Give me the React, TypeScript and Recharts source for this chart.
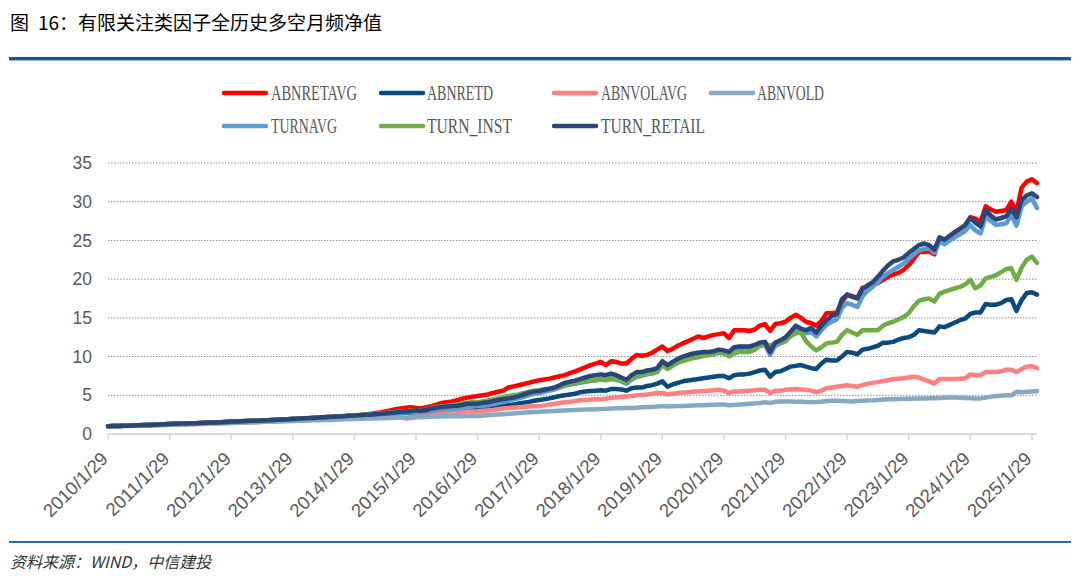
import React from 'react';
import { LineChart, Line, XAxis, YAxis, CartesianGrid } from 'recharts';

const years = [2010, 2011, 2012, 2013, 2014, 2015, 2016, 2017, 2018, 2019, 2020, 2021, 2022, 2023, 2024, 2025];
const xTickLabels = years.map((y) => `${y}/1/29`);
const yTicks = [0, 5, 10, 15, 20, 25, 30, 35];

const seriesNames = ['ABNRETAVG', 'ABNRETD', 'ABNVOLAVG', 'ABNVOLD', 'TURNAVG', 'TURN_INST', 'TURN_RETAIL'];
const seriesColors = ['#ff0000', '#0b4a7d', '#ff8080', '#86a9c3', '#5b9bd5', '#70ad47', '#2a4679'];

const ABNRETAVG = [
  1.00,1.02,1.04,1.06,1.08,1.10,1.12,1.15,1.17,1.20,1.23,1.26,
  1.30,1.32,1.34,1.36,1.38,1.40,1.42,1.45,1.47,1.50,1.53,1.56,
  1.60,1.62,1.64,1.67,1.70,1.72,1.75,1.78,1.81,1.85,1.88,1.92,
  1.95,1.98,2.02,2.05,2.08,2.12,2.15,2.18,2.22,2.26,2.30,2.35,
  2.40,2.45,2.52,2.60,2.68,2.78,2.90,3.05,3.20,3.30,3.40,3.45,
  3.35,3.30,3.45,3.60,3.80,4.00,4.10,4.20,4.35,4.55,4.70,4.80,
  4.90,5.00,5.10,5.30,5.45,5.60,6.00,6.15,6.30,6.45,6.60,6.80,
  6.95,7.05,7.15,7.30,7.45,7.60,7.85,8.10,8.35,8.60,8.90,9.10,
  9.30,8.90,9.40,9.30,9.10,9.10,9.70,10.20,10.10,10.20,10.50,10.90,
  11.30,10.70,11.00,11.40,11.70,12.00,12.30,12.60,12.40,12.60,12.80,12.90,
  13.00,12.40,13.40,13.40,13.40,13.30,13.50,14.00,14.20,13.30,14.20,14.30,
  14.50,15.00,15.40,15.00,14.50,14.30,14.00,14.60,15.60,15.60,15.70,17.00,
  18.00,17.80,17.60,18.90,19.00,19.30,19.50,19.90,20.30,20.60,20.80,21.20,
  21.80,22.60,23.50,23.50,23.60,23.20,25.30,24.70,25.50,26.00,26.50,26.90,
  28.00,27.80,27.40,29.40,29.00,28.70,28.80,28.90,30.00,28.70,31.80,32.60,
  32.90,32.40,
];

const ABNRETD = [
  1.00,1.02,1.04,1.06,1.08,1.10,1.12,1.14,1.16,1.19,1.22,1.25,
  1.28,1.30,1.32,1.34,1.36,1.38,1.40,1.43,1.45,1.48,1.51,1.54,
  1.57,1.59,1.61,1.64,1.67,1.69,1.72,1.75,1.78,1.82,1.85,1.89,
  1.93,1.96,2.00,2.03,2.06,2.10,2.13,2.16,2.20,2.24,2.28,2.32,
  2.36,2.39,2.42,2.45,2.48,2.52,2.56,2.60,2.65,2.70,2.74,2.78,
  2.82,2.80,2.90,2.98,3.05,3.10,3.15,3.20,3.22,3.25,3.28,3.30,
  3.30,3.35,3.40,3.50,3.60,3.65,3.70,3.80,3.95,4.05,4.15,4.30,
  4.40,4.50,4.60,4.75,4.90,5.00,5.10,5.20,5.40,5.50,5.55,5.60,
  5.65,5.60,5.80,5.80,5.75,5.60,5.90,6.00,6.00,6.20,6.30,6.50,
  6.80,6.10,6.40,6.60,6.80,6.90,7.00,7.10,7.20,7.30,7.40,7.50,
  7.50,7.20,7.60,7.70,7.70,7.80,8.00,8.20,8.30,7.40,8.00,8.10,
  8.40,8.70,8.80,8.90,8.70,8.50,8.40,9.10,9.60,9.50,9.50,10.00,
  10.60,10.50,10.30,10.90,11.00,11.20,11.40,11.80,11.80,11.90,12.20,12.40,
  12.50,12.80,13.40,13.30,13.20,13.10,13.90,13.80,14.10,14.40,14.70,14.90,
  15.50,15.70,15.70,16.80,16.70,16.70,16.90,17.30,17.40,15.90,17.30,18.20,
  18.30,18.00,
];

const ABNVOLAVG = [
  1.00,1.01,1.02,1.03,1.04,1.05,1.06,1.08,1.10,1.12,1.14,1.16,
  1.18,1.20,1.22,1.24,1.26,1.28,1.30,1.32,1.34,1.36,1.38,1.40,
  1.43,1.45,1.48,1.50,1.52,1.55,1.58,1.60,1.63,1.66,1.69,1.72,
  1.75,1.78,1.81,1.84,1.87,1.90,1.93,1.96,2.00,2.03,2.06,2.10,
  2.14,2.18,2.22,2.26,2.30,2.35,2.40,2.45,2.40,2.20,2.00,2.05,
  2.20,2.35,2.50,2.55,2.60,2.65,2.70,2.75,2.80,2.85,2.90,2.90,
  2.90,3.00,3.05,3.10,3.20,3.30,3.35,3.40,3.45,3.50,3.55,3.60,
  3.60,3.70,3.80,3.90,4.00,4.10,4.15,4.25,4.35,4.40,4.45,4.50,
  4.50,4.55,4.65,4.75,4.80,4.85,4.90,5.00,5.05,5.10,5.20,5.30,
  5.30,5.10,5.20,5.30,5.35,5.40,5.50,5.50,5.55,5.60,5.65,5.70,
  5.60,5.30,5.50,5.50,5.55,5.60,5.65,5.70,5.70,5.30,5.60,5.60,
  5.70,5.75,5.80,5.75,5.70,5.60,5.40,5.60,5.90,6.00,6.10,6.20,
  6.30,6.20,6.10,6.30,6.50,6.60,6.70,6.85,6.95,7.10,7.15,7.20,
  7.30,7.40,7.30,7.00,6.80,6.50,7.10,7.10,7.10,7.10,7.15,7.20,
  7.70,7.60,7.60,8.00,8.00,8.00,8.10,8.30,8.30,8.00,8.40,8.70,
  8.75,8.50,
];

const ABNVOLD = [
  1.00,1.01,1.02,1.03,1.05,1.06,1.07,1.09,1.11,1.13,1.15,1.17,
  1.19,1.21,1.23,1.25,1.27,1.29,1.31,1.33,1.35,1.37,1.39,1.41,
  1.43,1.45,1.47,1.49,1.51,1.53,1.55,1.57,1.59,1.62,1.64,1.66,
  1.68,1.70,1.72,1.74,1.76,1.78,1.80,1.82,1.85,1.87,1.89,1.91,
  1.93,1.95,1.97,1.99,2.01,2.03,2.05,2.08,2.10,2.12,2.14,2.16,
  2.18,2.17,2.20,2.22,2.25,2.27,2.28,2.30,2.30,2.30,2.32,2.33,
  2.33,2.38,2.42,2.47,2.52,2.56,2.60,2.65,2.70,2.75,2.80,2.85,
  2.88,2.90,2.93,2.96,3.00,3.03,3.06,3.10,3.12,3.15,3.18,3.20,
  3.22,3.25,3.30,3.32,3.33,3.35,3.37,3.40,3.45,3.48,3.50,3.55,
  3.60,3.55,3.58,3.60,3.62,3.65,3.68,3.70,3.72,3.75,3.78,3.80,
  3.80,3.70,3.75,3.80,3.85,3.90,3.95,4.00,4.10,4.00,4.15,4.20,
  4.20,4.20,4.18,4.15,4.12,4.10,4.12,4.18,4.25,4.30,4.28,4.25,
  4.22,4.20,4.25,4.30,4.32,4.35,4.40,4.45,4.48,4.50,4.52,4.55,
  4.56,4.58,4.60,4.60,4.62,4.62,4.65,4.68,4.70,4.70,4.68,4.65,
  4.62,4.60,4.60,4.70,4.80,4.90,4.95,5.00,5.00,5.45,5.40,5.45,
  5.50,5.55,
];

const TURNAVG = [
  1.00,1.02,1.04,1.06,1.08,1.10,1.12,1.15,1.17,1.20,1.23,1.26,
  1.30,1.32,1.34,1.36,1.38,1.40,1.42,1.45,1.47,1.50,1.53,1.56,
  1.59,1.61,1.63,1.66,1.69,1.71,1.74,1.77,1.80,1.83,1.86,1.90,
  1.93,1.96,2.00,2.03,2.06,2.10,2.13,2.16,2.20,2.24,2.28,2.33,
  2.38,2.42,2.45,2.48,2.52,2.56,2.60,2.64,2.70,2.75,2.80,2.82,
  2.80,2.78,2.85,2.95,3.05,3.15,3.20,3.25,3.30,3.40,3.50,3.55,
  3.60,3.65,3.70,3.85,4.00,4.15,4.30,4.45,4.60,4.80,5.00,5.20,
  5.30,5.45,5.60,5.75,6.00,6.25,6.40,6.50,6.60,6.75,6.85,6.95,
  7.05,6.95,7.10,7.00,6.80,6.50,7.00,7.40,7.50,7.70,7.80,8.00,
  8.90,8.50,8.90,9.30,9.60,9.80,10.00,10.10,10.20,10.20,10.30,10.50,
  10.40,10.20,10.80,10.90,10.90,10.90,11.10,11.40,11.50,10.20,11.40,11.70,
  12.00,12.70,13.50,13.30,13.00,13.20,12.60,13.40,14.10,14.50,14.80,16.30,
  16.90,16.70,16.40,17.80,18.50,19.00,19.60,20.30,20.80,21.20,21.60,22.00,
  22.60,23.20,23.70,23.90,24.00,23.40,24.80,24.50,25.00,25.40,25.80,26.20,
  27.00,26.30,25.90,28.10,27.50,27.00,27.10,27.20,28.30,26.90,29.40,30.00,
  30.40,29.20,
];

const TURN_INST = [
  1.00,1.02,1.04,1.06,1.08,1.10,1.12,1.15,1.17,1.20,1.23,1.26,
  1.30,1.32,1.34,1.36,1.38,1.40,1.42,1.45,1.47,1.50,1.53,1.56,
  1.60,1.62,1.64,1.67,1.70,1.72,1.75,1.78,1.81,1.85,1.88,1.92,
  1.96,1.99,2.03,2.07,2.10,2.14,2.18,2.22,2.26,2.30,2.34,2.38,
  2.42,2.46,2.50,2.55,2.60,2.66,2.72,2.78,2.84,2.90,2.95,3.00,
  3.05,3.00,3.15,3.35,3.50,3.60,3.65,3.75,3.80,3.90,4.05,4.10,
  4.10,4.20,4.30,4.45,4.60,4.75,4.90,5.00,5.10,5.30,5.45,5.60,
  5.65,5.80,5.85,5.95,6.10,6.30,6.45,6.60,6.70,6.80,6.90,6.95,
  7.10,7.00,7.20,7.10,6.90,6.70,7.20,7.50,7.60,7.80,7.90,8.10,
  9.00,8.40,8.80,9.20,9.40,9.60,9.80,9.90,10.10,10.20,10.40,10.60,
  10.50,10.00,10.40,10.60,10.60,10.60,10.90,11.40,11.70,11.40,11.70,11.80,
  12.10,12.60,13.00,13.10,12.00,11.30,10.80,11.20,11.70,11.80,11.90,12.80,
  13.40,13.10,12.80,13.40,13.40,13.40,13.40,14.00,14.30,14.50,14.80,15.10,
  15.60,16.50,17.20,17.40,17.50,17.10,18.10,18.40,18.60,18.80,19.00,19.30,
  19.90,18.80,19.20,20.10,20.30,20.50,20.90,21.30,21.40,19.90,21.50,22.50,
  22.90,22.10,
];

const TURN_RETAIL = [
  1.00,1.02,1.04,1.06,1.08,1.10,1.12,1.15,1.17,1.20,1.23,1.26,
  1.30,1.32,1.34,1.36,1.38,1.40,1.42,1.45,1.47,1.50,1.53,1.56,
  1.60,1.62,1.64,1.67,1.70,1.72,1.75,1.78,1.81,1.85,1.88,1.92,
  1.95,1.98,2.02,2.05,2.08,2.12,2.15,2.18,2.22,2.26,2.30,2.35,
  2.40,2.43,2.47,2.50,2.55,2.60,2.65,2.70,2.78,2.85,2.90,2.95,
  3.05,3.00,3.10,3.30,3.40,3.50,3.55,3.60,3.65,3.75,3.90,3.90,
  3.90,4.00,4.10,4.25,4.40,4.50,4.60,4.70,4.90,5.10,5.30,5.50,
  5.55,5.70,5.85,6.00,6.30,6.60,6.75,6.90,7.10,7.30,7.50,7.60,
  7.70,7.60,7.80,7.60,7.30,7.00,7.60,8.00,8.00,8.20,8.30,8.50,
  9.40,8.90,9.30,9.70,10.00,10.20,10.40,10.50,10.60,10.60,10.70,10.90,
  10.80,10.60,11.20,11.30,11.30,11.30,11.50,11.80,11.90,10.60,11.80,12.10,
  12.50,13.20,14.00,13.60,13.40,13.70,13.10,14.00,14.70,15.20,15.50,17.40,
  18.00,17.70,17.50,18.70,19.20,19.60,20.30,21.10,21.80,22.30,22.50,22.80,
  23.40,23.90,24.40,24.60,24.40,23.80,25.40,25.10,25.60,26.10,26.50,27.00,
  27.90,27.30,26.80,28.90,28.20,27.70,27.90,28.10,29.10,28.00,30.20,30.80,
  31.10,30.60,
];

const seriesValues = [ABNRETAVG, ABNRETD, ABNVOLAVG, ABNVOLD, TURNAVG, TURN_INST, TURN_RETAIL];

// monthly categories: January entries carry the tick label
const categories: string[] = [];
years.forEach((y, yi) => {
  for (let m = 1; m <= 12; m++) {
    if (categories.length >= ABNRETAVG.length) break;
    categories.push(m === 1 ? xTickLabels[yi] : `${y}/${m}`);
  }
});

const data = categories.map((c, i) => {
  const row: Record<string, string | number> = { date: c };
  seriesNames.forEach((n, si) => {
    row[n] = seriesValues[si][i];
  });
  return row;
});

const XTick = (props: any) => {
  const { x, y, payload } = props;
  const px = x + 1;
  const py = y + 20;
  return (
    <text
      x={px}
      y={py}
      textAnchor="end"
      transform={`rotate(-45 ${px} ${py})`}
      fontFamily="'Liberation Sans', Arial, sans-serif"
      fontSize={18.5}
      fill="#595959"
    >
      {payload.value}
    </text>
  );
};

const legendLayout = [
  { x1: 224, x2: 266, tx: 271, y: 93, len: 86 },
  { x1: 381, x2: 423, tx: 427, y: 93, len: 66 },
  { x1: 554, x2: 596, tx: 601, y: 93, len: 86 },
  { x1: 711, x2: 753, tx: 757, y: 93, len: 67 },
  { x1: 224, x2: 266, tx: 271, y: 126, len: 66 },
  { x1: 381, x2: 423, tx: 427, y: 126, len: 85 },
  { x1: 554, x2: 596, tx: 601, y: 126, len: 104 },
];

export default function App() {
  return (
    <div style={{ position: 'absolute', left: 0, top: 0, width: 1080, height: 585, background: '#ffffff', overflow: 'hidden' }}>
      <div style={{ position: 'absolute', left: 0, top: 0 }}>
        <LineChart width={1080} height={585} data={data} margin={{ top: 163, right: 43, bottom: 51, left: 48 }}>
          <CartesianGrid vertical={false} stroke="#8c8c8c" strokeDasharray="1.5 1.5" strokeWidth={1} />
          <XAxis
            dataKey="date"
            interval={11}
            height={100}
            tick={<XTick />}
            tickSize={6}
            tickMargin={0}
            axisLine={{ stroke: '#d9d9d9', strokeWidth: 2 }}
            tickLine={{ stroke: '#d9d9d9', strokeWidth: 1.5 }}
          />
          <YAxis
            domain={[0, 35]}
            ticks={yTicks}
            width={60}
            axisLine={false}
            tickLine={false}
            tickSize={0}
            tickMargin={16}
            tick={{ fontFamily: "'Liberation Sans', Arial, sans-serif", fontSize: 17.5, fill: '#595959' }}
          />
          {seriesNames.map((n, i) => (
            <Line
              key={n}
              type="linear"
              dataKey={n}
              stroke={seriesColors[i]}
              strokeWidth={4.5}
              dot={false}
              activeDot={false}
              strokeLinejoin="round"
              strokeLinecap="round"
              isAnimationActive={false}
            />
          ))}
        </LineChart>
      </div>
      <svg width={1080} height={585} style={{ position: 'absolute', left: 0, top: 0, pointerEvents: 'none' }}>
        <text x={10} y={30} fontFamily="'Noto Sans CJK SC', sans-serif" fontSize={19} fill="#000000">
          图
        </text>
        <text x={38} y={30} fontFamily="'Noto Sans CJK SC', sans-serif" fontSize={19} fill="#000000">
          16：有限关注类因子全历史多空月频净值
        </text>
        <rect x={9} y={57} width={1062} height={3} fill="#1a5590" />
        <rect x={9} y={60} width={1062} height={1} fill="#9cbad2" />
        {seriesNames.map((n, i) => {
          const L = legendLayout[i];
          return (
            <g key={n}>
              <line x1={L.x1} x2={L.x2} y1={L.y} y2={L.y} stroke={seriesColors[i]} strokeWidth={4.5} strokeLinecap="round" />
              <text
                x={L.tx}
                y={L.y + 7}
                fontFamily="'Liberation Serif', serif"
                fontSize={20}
                fill="#595959"
                textLength={L.len}
                lengthAdjust="spacingAndGlyphs"
              >
                {n}
              </text>
            </g>
          );
        })}
        <rect x={9} y={541} width={1062} height={2} fill="#2e6da4" />
        <text x={10} y={568} fontFamily="'Noto Sans CJK SC', sans-serif" fontSize={16} fontStyle="italic" fill="#333333">
          资料来源：WIND，中信建投
        </text>
      </svg>
    </div>
  );
}
